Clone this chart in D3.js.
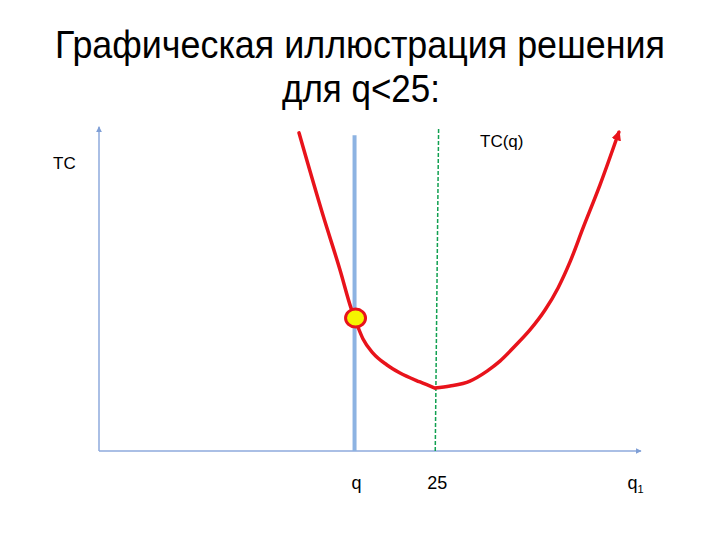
<!DOCTYPE html>
<html>
<head>
<meta charset="utf-8">
<script src="https://cdn.jsdelivr.net/npm/d3@7"></script>
<style>
  body { margin: 0; background: #fff; }
  svg { display: block; }
</style>
</head>
<body>
<svg id="chart" width="720" height="540"></svg>
<script>
// TC(q) curve
const curveQ  = [14.87, 16.65, 17.92, 18.74, 19.11, 19.63, 20.37, 21.41, 22.38, 23.87, 24.98, 26.1, 27.58, 28.85, 29.81, 30.93, 32.04, 33.16, 34.13, 35.02, 35.99, 37.25, 38.65]
const curveTC = [99.1, 73.5, 56.4, 44.5, 40.2, 34.9, 30.5, 26.8, 24.3, 21.5, 19.6, 20.25, 21.8, 24.9, 28.0, 32.7, 37.7, 43.9, 50.8, 58.9, 69.5, 82.9, 99.3]

const qValue = 19       // blue vertical line
const qLimit = 25       // green dashed line
const pointTC = 41.4    // yellow point on the curve
const axisLabels = ['q', '25', 'q']

const svg = d3.select('#chart')

const x = d3.scaleLinear().domain([0, 40]).range([99, 637])
const y = d3.scaleLinear().domain([0, 100]).range([451, 130])

const font = '"Liberation Sans", Arial, sans-serif'

// title (narrow face in the original, so squeeze to its width)
svg.append('text')
  .attr('x', 55).attr('y', 58)
  .attr('textLength', 610).attr('lengthAdjust', 'spacingAndGlyphs')
  .style('font-family', font).style('font-size', '39px')
  .text('Графическая иллюстрация решения')
svg.append('text')
  .attr('x', 282).attr('y', 102)
  .attr('textLength', 158).attr('lengthAdjust', 'spacingAndGlyphs')
  .style('font-family', font).style('font-size', '39px')
  .text('для q<25:')

// axes
const axisColor = '#8eaadc'
const defs = svg.append('defs')
defs.append('marker')
  .attr('id', 'axisArrow')
  .attr('viewBox', '0 0 10 10').attr('refX', 9).attr('refY', 5)
  .attr('markerWidth', 6).attr('markerHeight', 6)
  .attr('markerUnits', 'userSpaceOnUse')
  .attr('orient', 'auto')
  .append('path').attr('d', 'M0,0L10,5L0,10Z').attr('fill', '#7f9fd6')
defs.append('marker')
  .attr('id', 'curveArrow')
  .attr('viewBox', '0 0 10 10').attr('refX', 8).attr('refY', 5)
  .attr('markerWidth', 10).attr('markerHeight', 10)
  .attr('markerUnits', 'userSpaceOnUse')
  .attr('orient', 'auto')
  .append('path').attr('d', 'M0,0L10,5L0,10Z').attr('fill', '#e8131b')

svg.append('line')
  .attr('x1', x(0)).attr('y1', y(0))
  .attr('x2', x(0)).attr('y2', y(101))
  .attr('stroke', axisColor).attr('stroke-width', 1.5)
  .attr('marker-end', 'url(#axisArrow)')
svg.append('line')
  .attr('x1', x(0)).attr('y1', y(0))
  .attr('x2', x(40.3)).attr('y2', y(0))
  .attr('stroke', axisColor).attr('stroke-width', 1.5)
  .attr('marker-end', 'url(#axisArrow)')

// blue q line
svg.append('line')
  .attr('x1', x(qValue)).attr('y1', y(0))
  .attr('x2', x(qValue)).attr('y2', y(98.4))
  .attr('stroke', '#8db3e2').attr('stroke-width', 4)

// green dashed line at 25
svg.append('line')
  .attr('x1', x(qLimit)).attr('y1', y(0))
  .attr('x2', x(qLimit + 0.25)).attr('y2', y(100.8))
  .attr('stroke', '#10a050').attr('stroke-width', 1.5)
  .attr('stroke-dasharray', '4,2')

// TC(q) curve: falling and rising branches meet with a kink at the minimum
const pts = curveQ.map((q, i) => [q, curveTC[i]])
const minIdx = d3.minIndex(curveTC)
const line = d3.line()
  .x(d => x(d[0])).y(d => y(d[1]))
  .curve(d3.curveMonotoneX)
svg.append('path')
  .attr('d', line(pts.slice(0, minIdx + 1)) + line(pts.slice(minIdx)))
  .attr('fill', 'none')
  .attr('stroke', '#e8131b').attr('stroke-width', 3.5)
  .attr('stroke-linecap', 'round')
  .attr('stroke-linejoin', 'round')
  .attr('marker-end', 'url(#curveArrow)')

// point
svg.append('ellipse')
  .attr('cx', x(qValue) + 1).attr('cy', y(pointTC))
  .attr('rx', 10).attr('ry', 9)
  .attr('fill', '#f5f500').attr('stroke', '#e8131b').attr('stroke-width', 3)

// labels
svg.append('text')
  .attr('x', 53).attr('y', 169)
  .style('font-family', font).style('font-size', '17px')
  .text('TC')
svg.append('text')
  .attr('x', 480).attr('y', 147)
  .style('font-family', font).style('font-size', '17px')
  .text('TC(q)')

const tickQ = [qValue + 0.15, qLimit + 0.15, 39.9]
axisLabels.forEach((t, i) => {
  const txt = svg.append('text')
    .attr('x', x(tickQ[i])).attr('y', 489)
    .attr('text-anchor', 'middle')
    .style('font-family', font).style('font-size', '18px')
    .text(t)
  if (i === 2) {
    txt.append('tspan').attr('dy', 4).style('font-size', '11px').text('1')
  }
})
</script>
</body>
</html>
